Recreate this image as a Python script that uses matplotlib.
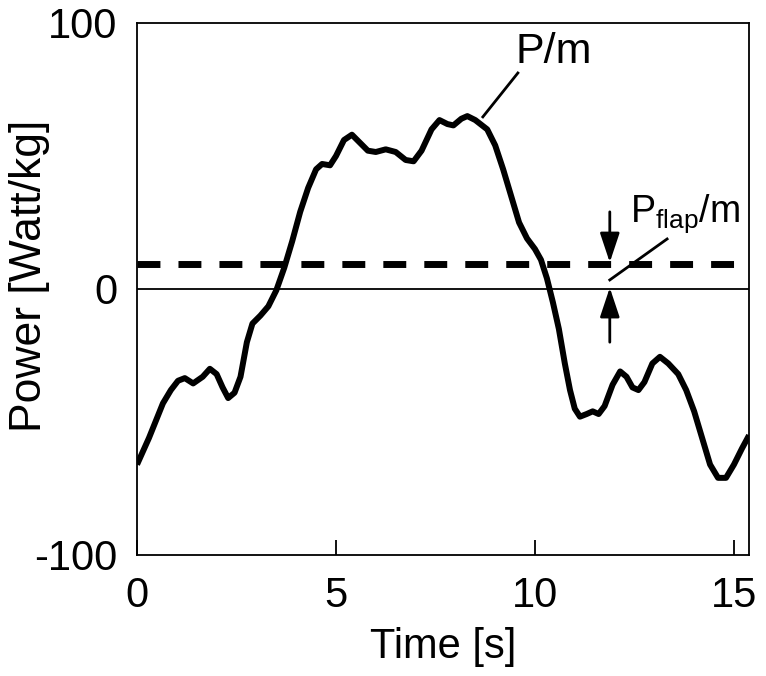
import numpy as np
import matplotlib
matplotlib.use("Agg")
import matplotlib.pyplot as plt

plt.rcParams['font.family'] = ['Liberation Sans', 'DejaVu Sans']
plt.rcParams['mathtext.fontset'] = 'custom'
plt.rcParams['mathtext.rm'] = 'Liberation Sans'
plt.rcParams['mathtext.it'] = 'Liberation Sans'
plt.rcParams['axes.unicode_minus'] = False

# power per unit mass
time_s = [0.0, 0.3, 0.65, 0.85, 1.03, 1.2, 1.41, 1.65, 1.83, 2.0, 2.15, 2.29, 2.45,
          2.6, 2.76, 2.9, 3.1, 3.3, 3.5, 3.7, 3.9, 4.1, 4.3, 4.5, 4.65, 4.85, 5.0,
          5.2, 5.4, 5.6, 5.8, 6.0, 6.25, 6.5, 6.75, 6.95, 7.15, 7.4, 7.6, 7.8, 7.95,
          8.15, 8.3, 8.5, 8.8, 9.0, 9.2, 9.4, 9.6, 9.8, 10.0, 10.15, 10.3, 10.45,
          10.6, 10.75, 10.88, 11.0, 11.13, 11.3, 11.45, 11.6, 11.75, 11.95, 12.14,
          12.3, 12.45, 12.6, 12.75, 12.95, 13.14, 13.35, 13.6, 13.8, 14.0, 14.2,
          14.4, 14.6, 14.8, 15.0, 15.2, 15.38]
power = [-66, -56, -43, -38, -34.5, -33.5, -35.5, -33, -30, -32, -37, -41, -39,
         -33, -20, -13, -10, -6.5, -0.5, 8, 18, 29, 38, 45, 47, 46.5, 50,
         56, 58, 55, 52, 51.5, 52.5, 51.5, 48.5, 48, 52, 60, 63.5, 62, 61.5,
         64, 65, 63.5, 60, 54, 45, 35, 25, 19, 15, 11, 4, -5,
         -15, -28, -38, -45, -48, -47, -46, -47, -44, -36, -31,
         -33, -37, -38, -35, -28, -25.5, -28, -32, -38, -46, -56,
         -66, -71, -71, -66, -60, -55]
p_flap = 9.5

fig = plt.figure(figsize=(7.66, 6.76), dpi=100)
ax = fig.add_axes([0.1789, 0.179, 0.799, 0.787])

ax.plot(time_s, power, color='black', lw=4.3, solid_joinstyle='round', solid_capstyle='butt')
ax.axhline(p_flap, color='black', lw=5, linestyle=(0, (3.3, 2.6)))
ax.axhline(0, color='black', lw=1.3)

ax.set_xlim(0, 15.38)
ax.set_ylim(-100, 100)
ax.set_xticks([0, 5, 10, 15])
ax.set_yticks([-100, 0, 100])
ax.tick_params(axis='x', direction='in', length=11, width=1.3, pad=15, labelsize=30)
ax.tick_params(axis='y', length=0, pad=14, labelsize=30)
for s in ax.spines.values():
    s.set_linewidth(1.3)

ax.set_xlabel('Time [s]', fontsize=30, labelpad=8)
ax.set_ylabel('Power [Watt/kg]', fontsize=32)
ax.yaxis.set_label_coords(-0.142, 0.524)

# labels and leader lines
ax.text(9.5, 85, 'P/m', fontsize=31, ha='left', va='baseline')
ax.plot([8.69, 9.57], [64.7, 81.2], color='black', lw=2)
ax.text(12.39, 25.2, r'$\mathregular{P_{flap}/m}$', fontsize=27, ha='left', va='baseline')
ax.plot([11.88, 13.32], [3.4, 18.8], color='black', lw=2)

arrow = dict(arrowstyle='-|>,head_length=1.8,head_width=0.6', color='black', lw=2,
             shrinkA=0, shrinkB=0)
ax.annotate('', xy=(11.88, p_flap + 0.5), xytext=(11.88, 29), arrowprops=arrow)
ax.annotate('', xy=(11.88, 0.5), xytext=(11.88, -20), arrowprops=arrow)

fig.savefig('out.png', dpi=100)
